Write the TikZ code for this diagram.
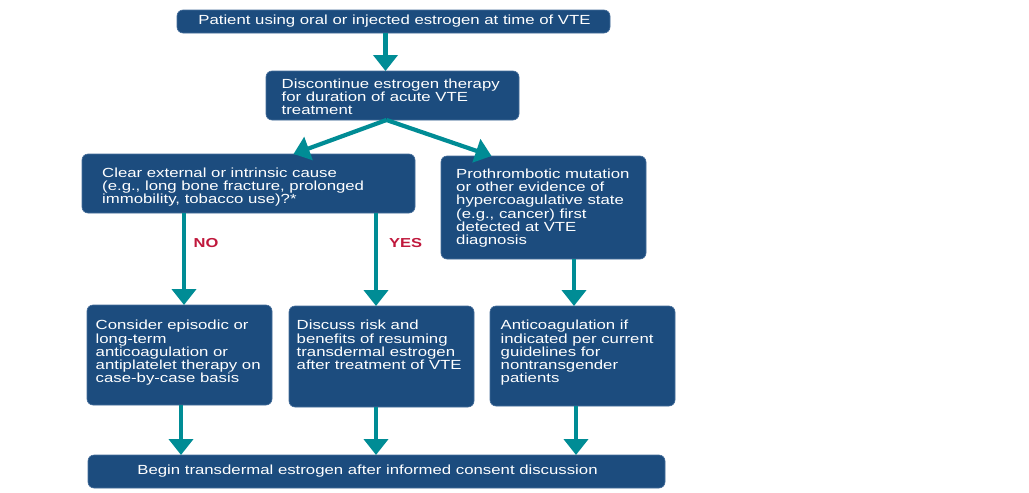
\documentclass[tikz,border=0pt]{standalone}
\usepackage{fontspec}
\setmainfont{Liberation Sans}[FakeStretch=1.27]
\usetikzlibrary{arrows.meta}
\definecolor{boxblue}{RGB}{28,76,126}
\definecolor{boxedge}{RGB}{70,110,155}
\definecolor{teal}{RGB}{0,140,149}
\definecolor{lblred}{RGB}{192,24,60}
\tikzset{
  box/.style={draw=boxedge, line width=0.6pt, fill=boxblue, rounded corners=6pt, inner sep=0pt, outer sep=0pt, anchor=north west},
  txt/.style={text=white, font=\fontsize{13.2}{13.3}\selectfont, align=left, inner sep=0pt, anchor=north west},
  ctxt/.style={text=white, font=\fontsize{13.2}{13.3}\selectfont, inner sep=0pt},
  arr/.style={draw=teal, line width=4.2pt, -{Triangle[width=24pt,length=16pt]}},
  lbl/.style={text=lblred, font=\fontsize{13}{14}\selectfont\bfseries, inner sep=0pt, anchor=west}
}
\begin{document}
\begin{tikzpicture}[x=1pt,y=-1pt]
\useasboundingbox (0,0) rectangle (1029,493);
\fill[white] (0,0) rectangle (1029,493);
% boxes
\node[box, minimum width=433, minimum height=23] (top) at (177,10) {};
\node[ctxt] (topt) at ([xshift=1pt]top.center) {Patient using oral or injected estrogen at time of VTE};
\node[box, minimum width=253, minimum height=49] (disc) at (266,71) {};
\node[txt] (disct) at ([shift={(15.5,7.5)}]disc.north west) {Discontinue estrogen therapy\\for duration of acute VTE\\treatment};
\node[box, minimum width=333, minimum height=59] (clear) at (82,154) {};
\node[txt] (cleart) at ([shift={(20,13.5)}]clear.north west) {Clear external or intrinsic cause\\(e.g., long bone fracture, prolonged\\immobility, tobacco use)?*};
\node[box, minimum width=205, minimum height=103] (proth) at (441,156) {};
\node[txt] (protht) at ([shift={(15,12.5)}]proth.north west) {Prothrombotic mutation\\or other evidence of\\hypercoagulative state\\(e.g., cancer) first\\detected at VTE\\diagnosis};
\node[box, minimum width=185, minimum height=100] (cons) at (87,305) {};
\node[txt] (const) at ([shift={(8.5,15)}]cons.north west) {Consider episodic or\\long-term\\anticoagulation or\\antiplatelet therapy on\\case-by-case basis};
\node[box, minimum width=185, minimum height=101] (disc2) at (289,306) {};
\node[txt] (disc2t) at ([shift={(7.5,14)}]disc2.north west) {Discuss risk and\\benefits of resuming\\transdermal estrogen\\after treatment of VTE};
\node[box, minimum width=185, minimum height=100] (anti) at (490,306) {};
\node[txt] (antit) at ([shift={(10.5,14)}]anti.north west) {Anticoagulation if\\indicated per current\\guidelines for\\nontransgender\\patients};
\node[box, minimum width=577, minimum height=33] (begin) at (88,455) {};
\node[ctxt] (begint) at ([xshift=-9pt]begin.center) {Begin transdermal estrogen after informed consent discussion};
% labels
\node[lbl] (no) at (193.5,243) {NO};
\node[lbl] (yes) at (389,243) {YES};
% arrows
\draw[arr] ([xshift=-8pt]top.south) -- ([xshift=-7pt]disc.north);
\coordinate (split) at ([xshift=-6pt]disc.south);
\draw[arr] (split) -- ([xshift=45pt]clear.north);
\draw[arr] (split) -- ([xshift=-52pt]proth.north);
\draw[arr] ([xshift=-64.5pt]clear.south) -- ([xshift=4.5pt]cons.north);
\draw[arr] ([xshift=127.5pt]clear.south) -- ([xshift=-5.5pt]disc2.north);
\draw[arr] ([xshift=30.5pt]proth.south) -- ([xshift=-8.5pt]anti.north);
\draw[arr] ([xshift=1.5pt]cons.south) -- ([xshift=1.5pt]cons.south |- begin.north);
\draw[arr] ([xshift=-5.5pt]disc2.south) -- ([xshift=-5.5pt]disc2.south |- begin.north);
\draw[arr] ([xshift=-6.5pt]anti.south) -- ([xshift=-6.5pt]anti.south |- begin.north);
\end{tikzpicture}
\end{document}
